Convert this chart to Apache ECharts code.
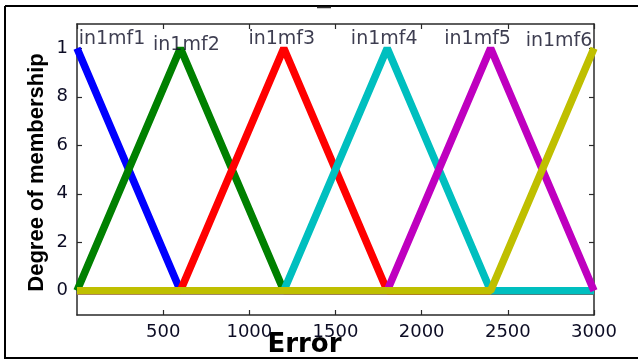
<!DOCTYPE html>
<html>
<head>
<meta charset="utf-8">
<script src="https://cdn.jsdelivr.net/npm/echarts@6/dist/echarts.min.js"></script>
<style>html,body{margin:0;padding:0;background:#fff}#c{width:638px;height:360px}</style>
</head>
<body>
<div id="c"></div>
<script>
// ---- data ----
const xBreaks = [0, 600, 1200, 1800, 2400, 3000];
const mfNames = ['in1mf1', 'in1mf2', 'in1mf3', 'in1mf4', 'in1mf5', 'in1mf6'];
const mf1 = [1, 0, 0, 0, 0, 0];
const mf2 = [0, 1, 0, 0, 0, 0];
const mf3 = [0, 0, 1, 0, 0, 0];
const mf4 = [0, 0, 0, 1, 0, 0];
const mf5 = [0, 0, 0, 0, 1, 0];
const mf6 = [0, 0, 0, 0, 0, 1];
const mfPeaks = [0, 600, 1200, 1800, 2400, 3000];
const yTickValues = [0, 0.2, 0.4, 0.6, 0.8, 1];
const yTickLabels = ['0', '2', '4', '6', '8', '1'];
const xAxisName = 'Error';
const yAxisName = 'Degree of membership';

// ---- styles ----
const colors = ['#0000ff', '#008000', '#ff0000', '#00bfbf', '#bf00bf', '#bfbf00'];
const labelOffsets = [[35, 0], [6, 6], [-2, 0], [-3, 0], [-13, 0], [-35, 2]];
const textColor = '#0c0c24';
const axisColor = '#2a2a2a';

const chart = echarts.init(document.getElementById('c'), null, {renderer: 'canvas'});
const mfs = [mf1, mf2, mf3, mf4, mf5, mf6];

const lineSeries = mfs.map((vals, i) => ({
  type: 'line',
  name: mfNames[i],
  data: xBreaks.map((x, j) => [x, vals[j]]),
  showSymbol: false,
  symbol: 'none',
  lineStyle: {color: colors[i], width: 7.5},
  animation: false,
  z: 2 + i
}));

const labelSeries = {
  type: 'scatter',
  symbolSize: 0,
  silent: true,
  animation: false,
  z: 20,
  data: mfPeaks.map((x, i) => ({
    value: [x, 1],
    label: {
      show: true,
      formatter: mfNames[i],
      position: 'top',
      distance: 0,
      offset: labelOffsets[i],
      color: textColor,
      fontFamily: 'DejaVu Sans',
      fontSize: 19
    }
  }))
};

function yLab(v) {
  for (let i = 0; i < yTickValues.length; i++) {
    if (Math.abs(yTickValues[i] - v) < 1e-6) return yTickLabels[i];
  }
  return '';
}

const axisLine = {show: true, onZero: false, lineStyle: {color: axisColor, width: 1.5}};

const option = {
  backgroundColor: '#ffffff',
  animation: false,
  grid: {left: 77, right: 44, top: 24, bottom: 45, containLabel: false, outerBoundsMode: 'none'},
  xAxis: [{
    type: 'value', min: 0, max: 3000, interval: 500,
    position: 'bottom',
    name: xAxisName, nameLocation: 'middle', nameGap: 17,
    nameMoveOverlap: false,
    nameTextStyle: {fontFamily: 'DejaVu Sans', fontWeight: 'bold', fontSize: 26, color: '#000', padding: [0, 62, 0, 0]},
    axisLine: axisLine,
    axisTick: {show: true, inside: true, length: 5, lineStyle: {color: axisColor, width: 1.2}},
    axisLabel: {show: true, showMinLabel: false, margin: 8, color: textColor, fontFamily: 'DejaVu Sans', fontSize: 18,
      formatter: (v) => String(v)},
    splitLine: {show: false}
  }, {
    type: 'value', min: 0, max: 3000, interval: 500,
    position: 'top',
    axisLine: axisLine,
    axisTick: {show: true, inside: true, length: 5, lineStyle: {color: axisColor, width: 1.2}},
    axisLabel: {show: false},
    splitLine: {show: false}
  }],
  yAxis: [{
    type: 'value', min: -0.1, max: 1.1,
    position: 'left',
    name: yAxisName, nameLocation: 'middle', nameGap: 29,
    nameMoveOverlap: false,
    nameTextStyle: {fontFamily: 'Liberation Sans', fontWeight: 'bold', fontSize: 22, color: '#000', padding: [0, 6, 0, 0]},
    axisLine: axisLine,
    axisTick: {show: true, inside: true, length: 5, customValues: yTickValues, lineStyle: {color: axisColor, width: 1.2}},
    axisLabel: {show: true, customValues: yTickValues, formatter: yLab, margin: 9, color: textColor, fontFamily: 'DejaVu Sans', fontSize: 18},
    splitLine: {show: false}
  }, {
    type: 'value', min: -0.1, max: 1.1,
    position: 'right',
    axisLine: axisLine,
    axisTick: {show: true, inside: true, length: 5, customValues: yTickValues, lineStyle: {color: axisColor, width: 1.2}},
    axisLabel: {show: false},
    splitLine: {show: false}
  }],
  graphic: [
    {type: 'line', shape: {x1: 5, y1: 6, x2: 638, y2: 6}, style: {stroke: '#000', lineWidth: 2}, z: 100},
    {type: 'line', shape: {x1: 5, y1: 6, x2: 5, y2: 359}, style: {stroke: '#000', lineWidth: 2}, z: 100},
    {type: 'line', shape: {x1: 5, y1: 358, x2: 638, y2: 358}, style: {stroke: '#000', lineWidth: 2}, z: 100},
    {type: 'line', shape: {x1: 317, y1: 7.5, x2: 331, y2: 7.5}, style: {stroke: '#333', lineWidth: 1.5}, z: 100}
  ],
  series: lineSeries.concat([labelSeries])
};

chart.setOption(option);
</script>
</body>
</html>
